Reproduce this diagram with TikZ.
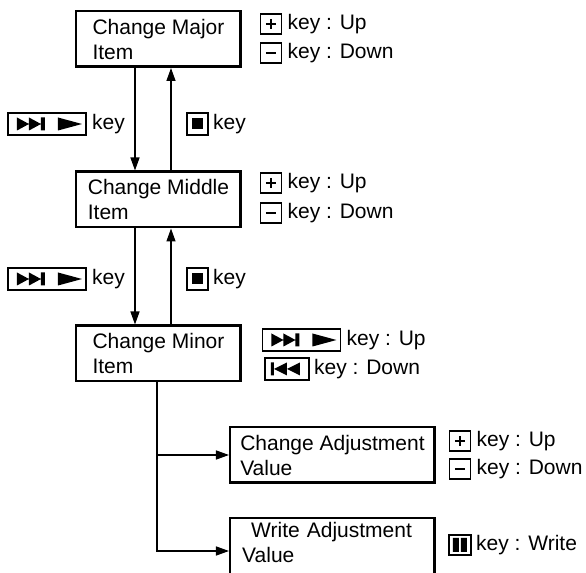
\documentclass[tikz,border=0pt]{standalone}
\usepackage{fontspec}
\setmainfont{Liberation Sans}
\usetikzlibrary{arrows.meta,positioning}

\begin{document}
\begin{tikzpicture}[
  x=0.5pt, y=-0.5pt,
  >={Triangle[length=6.5pt,width=4.5pt]},
  item/.style={draw, line width=1.25pt, align=left, inner sep=0pt,
    minimum width=82.25pt, minimum height=27.75pt,
    font=\fontsize{10.5}{12.5}\selectfont},
  valitem/.style={item, minimum width=102.25pt},
  keybox/.style={draw, line width=0.8pt, inner sep=0pt,
    minimum width=10.5pt, minimum height=10pt},
  keytxt/.style={inner sep=0pt, font=\fontsize{10.5}{12.5}\selectfont},
  pluskey/.style={keybox, path picture={
    \draw[line width=0.6pt, shift={(path picture bounding box.center)}]
      (-5,0) -- (5,0) (0,-5) -- (0,5);}},
  minuskey/.style={keybox, path picture={
    \draw[line width=0.6pt, shift={(path picture bounding box.center)}]
      (-5,0) -- (5,0);}},
  stopkey/.style={keybox, minimum height=11pt, path picture={
    \fill[shift={(path picture bounding box.center)}]
      (-5.5,-5.5) rectangle (5.5,5.5);}},
  pausekey/.style={keybox, minimum width=11pt, path picture={
    \fill[shift={(path picture bounding box.center)}]
      (-7,-7) rectangle (-1,7) (1,-7) rectangle (7,7);}},
  ffkey/.style={keybox, minimum width=39pt, minimum height=11pt, path picture={
    \fill[shift={(path picture bounding box.center)}]
      (-30,-6.5) -- (-18,0) -- (-30,6.5) -- cycle
      (-18,-6.5) -- (-6,0) -- (-18,6.5) -- cycle
      (-6,-6.5) rectangle (-2,6.5)
      (11,-6.5) -- (35,0) -- (11,6.5) -- cycle;}},
  rewkey/.style={keybox, minimum width=22pt, minimum height=11pt, path picture={
    \fill[shift={(path picture bounding box.center)}]
      (-16,-6.5) rectangle (-13,6.5)
      (-13,0) -- (0,-6.5) -- (0,6.5) -- cycle
      (0,0) -- (13,-6.5) -- (13,6.5) -- cycle;}},
  link/.style={->, line width=0.7pt},
]
\useasboundingbox (0,0) rectangle (586,573);
% the menu levels
\node[item] (major) at (158.5,39) {Change Major\\Item};
\node[item] (middle) at (158.5,199.5) {Change Middle\\Item};
\node[item] (minor) at (158.5,353.5) {Change Minor\\Item};
\node[valitem] (adjust) at (332.5,455) {Change Adjustment\\Value};
\node[valitem, text width=90.25pt, inner xsep=6pt, minimum height=31pt]
  (write) at (332.5,549) {\hspace*{4.5pt}Write Adjustment\\Value\\[-6pt]\mbox{}};
% keys between the levels
\node[ffkey] (ffA) at (47,124) {};
\node[keytxt, right=2.5pt of ffA] {key};
\node[stopkey] (stopA) at (197.5,124) {};
\node[keytxt, right=2pt of stopA] {key};
\node[ffkey] (ffB) at (47,279) {};
\node[keytxt, right=2.5pt of ffB] {key};
\node[stopkey] (stopB) at (197.5,279) {};
\node[keytxt, right=2pt of stopB] {key};
% keys beside each level
\node[pluskey] (plusA) at (271,24) {};
\node[keytxt, right=2.5pt of plusA] {key : Up};
\node[minuskey] (minusA) at (271,53) {};
\node[keytxt, right=2.5pt of minusA] {key : Down};
\node[pluskey] (plusB) at (271,183) {};
\node[keytxt, right=2.5pt of plusB] {key : Up};
\node[minuskey] (minusB) at (271,213) {};
\node[keytxt, right=2.5pt of minusB] {key : Down};
\node[ffkey] (ffC) at (301.5,340) {};
\node[keytxt, right=2.5pt of ffC] {key : Up};
\node[rewkey] (rewC) at (287,369) {};
\node[keytxt, right=2pt of rewC] {key : Down};
\node[pluskey] (plusD) at (460,441) {};
\node[keytxt, right=2.5pt of plusD] {key : Up};
\node[minuskey] (minusD) at (460,469) {};
\node[keytxt, right=2.5pt of minusD] {key : Down};
\node[pausekey] (pauseE) at (460,545) {};
\node[keytxt, right=2pt of pauseE] {key : Write};
% connectors
\draw[link] ([xshift=-11.75pt]major.south) -- ([xshift=-11.75pt]middle.north);
\draw[link] ([xshift=6.25pt]middle.north) -- ([xshift=6.25pt]major.south);
\draw[link] ([xshift=-11.75pt]middle.south) -- ([xshift=-11.75pt]minor.north);
\draw[link] ([xshift=6.25pt]minor.north) -- ([xshift=6.25pt]middle.south);
\coordinate (fork) at ([xshift=-0.75pt]minor.south);
\draw[link] (fork) |- ([yshift=-1pt]write.west);
\draw[link] (fork |- adjust.west) -- (adjust.west);
\end{tikzpicture}
\end{document}
